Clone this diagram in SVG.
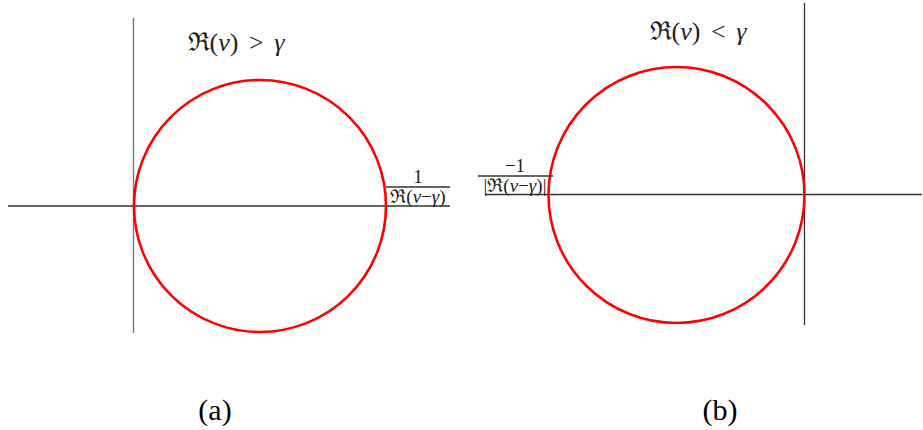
<svg xmlns="http://www.w3.org/2000/svg" width="923" height="430" viewBox="0 0 923 430">
<style>
.ax{stroke:#333;stroke-width:1.3;fill:none}
.axg{stroke:#777;stroke-width:1.4;fill:none}
.c{stroke:#ff0000;stroke-width:2.6;fill:none}
.m{font-family:"Liberation Serif","DejaVu Serif",serif;fill:#222;word-spacing:4px}
.i{font-style:italic}
.lab{font-family:"Liberation Serif",serif;font-size:30px;fill:#000;text-anchor:middle}
.fr{font-family:"Liberation Serif","DejaVu Serif",serif;font-size:19px;fill:#222;text-anchor:middle}
</style>
<g id="connectors">
<line class="ax" x1="8" y1="206" x2="450" y2="206"/>
<line class="axg" x1="133.5" y1="18" x2="133.5" y2="333"/>
<line class="ax" x1="485" y1="194.5" x2="922" y2="194.5"/>
<line class="ax" x1="804.5" y1="3" x2="804.5" y2="325"/>
</g>
<g id="circleA"><circle class="c" cx="260" cy="206" r="126"/></g>
<g id="circleB"><circle class="c" cx="676.5" cy="195" r="128"/></g>
<g id="titleA"><text class="m" x="236" y="51" font-size="26" text-anchor="middle">ℜ(<tspan class="i">ν</tspan>) &gt; <tspan class="i">γ</tspan></text></g>
<g id="titleB"><text class="m" x="698" y="40" font-size="26" text-anchor="middle">ℜ(<tspan class="i">ν</tspan>) &lt; <tspan class="i">γ</tspan></text></g>
<g id="fracA">
<text class="fr" x="418" y="183">1</text>
<line class="ax" x1="386" y1="187" x2="450" y2="187" stroke-width="1"/>
<text class="fr" x="418" y="203">ℜ(<tspan class="i">ν</tspan>−<tspan class="i">γ</tspan>)</text>
</g>
<g id="fracB">
<text class="fr" x="515" y="172">−1</text>
<line class="ax" x1="478" y1="176" x2="553" y2="176" stroke-width="1"/>
<text class="fr" x="515" y="192">|ℜ(<tspan class="i">ν</tspan>−<tspan class="i">γ</tspan>)|</text>
</g>
<g id="labelA"><text class="lab" x="215" y="420">(a)</text></g>
<g id="labelB"><text class="lab" x="720" y="420">(b)</text></g>
</svg>
